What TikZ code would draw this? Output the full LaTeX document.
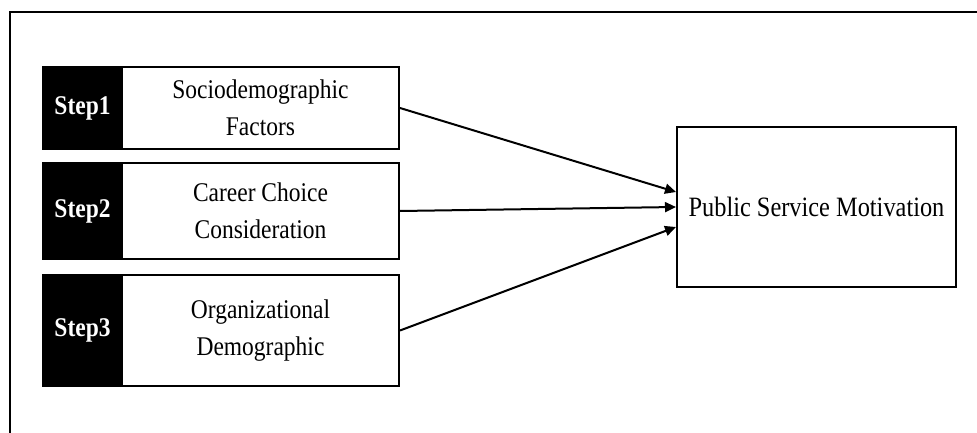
\documentclass[tikz,border=0pt]{standalone}
\usepackage{fontspec}
\newfontfamily\tnr[FakeStretch=0.87]{Liberation Serif}
\usetikzlibrary{arrows.meta}
\tikzset{
  stepbox/.style={rectangle, draw=black, fill=black, line width=1.5pt, text=white,
    font=\tnr\bfseries\fontsize{27}{33}\selectfont, minimum width=79pt, inner sep=0pt},
  factbox/.style={rectangle, draw=black, fill=white, line width=2pt, align=center,
    font=\tnr\fontsize{27}{36.5}\selectfont, minimum width=277pt, inner sep=0pt},
  outbox/.style={rectangle, draw=black, line width=2pt, align=center,
    font=\tnr\fontsize{28}{34}\selectfont, minimum width=279pt, minimum height=160pt, inner sep=0pt},
  arr/.style={draw=black, line width=2pt, -{Triangle[length=11pt,width=10pt]}},
  frame/.style={draw=black, line width=2.5pt}
}
\begin{document}
\begin{tikzpicture}[x=1pt,y=-1pt]
\useasboundingbox (0,0) rectangle (977,433);
\clip (0,0) rectangle (977,433);
\draw[frame] (10,460) -- (10,12) -- (1000,12);
% Step 1
\node[stepbox, minimum height=82pt] (s1) at (82.5,108) {Step1};
\node[factbox, minimum height=82pt] (f1) at (260.5,108) {Sociodemographic\\Factors};
% Step 2
\node[stepbox, minimum height=96pt] (s2) at (82.5,211) {Step2};
\node[factbox, minimum height=96pt] (f2) at (260.5,211) {Career Choice\\Consideration};
% Step 3
\node[stepbox, minimum height=111pt] (s3) at (82.5,330.5) {Step3};
\node[factbox, minimum height=111pt] (f3) at (260.5,330.5) {Organizational\\Demographic};
% Outcome
\node[outbox] (psm) at (816.5,207) {Public Service Motivation};
\draw[arr] (f1.east) -- ([yshift=15pt]psm.west);
\draw[arr] (f2.east) -- (psm.west);
\draw[arr] (f3.east) -- ([yshift=-20pt]psm.west);
\end{tikzpicture}
\end{document}
